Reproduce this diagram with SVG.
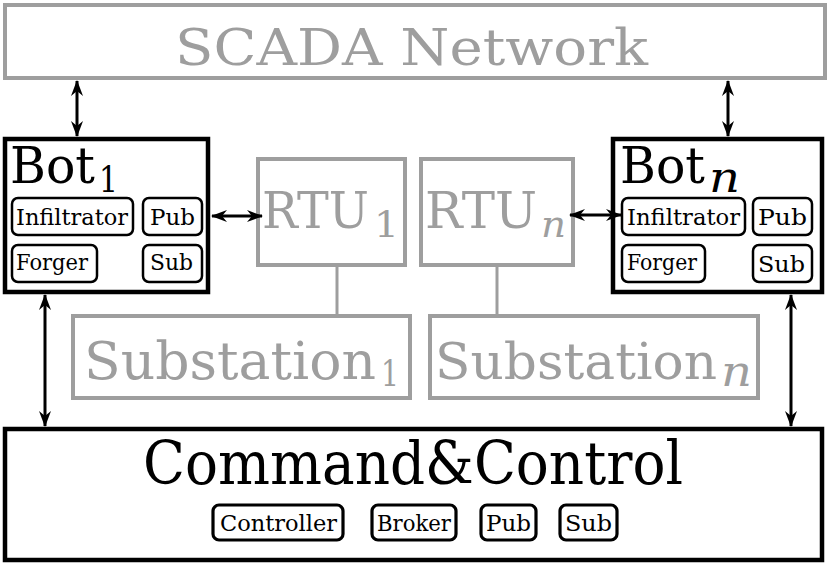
<svg xmlns="http://www.w3.org/2000/svg" width="831" height="566" viewBox="0 0 831 566" font-family="'DejaVu Serif', serif">
<style>
text{font-family:'DejaVu Serif',serif}
.g{fill:#9e9e9e}
.gbox{fill:#fff;stroke:#9e9e9e;stroke-width:4}
.bbox{fill:#fff;stroke:#000;stroke-width:4.5}
.ibox{fill:#fff;stroke:#000;stroke-width:2.5}
.cbox{fill:#fff;stroke:#000;stroke-width:3.2}
.conn{stroke:#000;stroke-width:3;fill:none;marker-start:url(#ah);marker-end:url(#ah)}
.gl{stroke:#9e9e9e;stroke-width:3;fill:none}
.it{font-size:22px}
.ct{font-size:22px}
</style>
<defs>
<marker id="ah" viewBox="0 0 16 12" refX="15" refY="6" markerWidth="16" markerHeight="12" markerUnits="userSpaceOnUse" orient="auto-start-reverse">
<path d="M0,0 L16,6 L0,12 L5,6 z" fill="#000"/>
</marker>
</defs>
<rect width="831" height="566" fill="#fff"/>

<g id="scada">
<rect class="gbox" x="5" y="5" width="820" height="73"/>
<text class="g" x="175" y="65" font-size="50" textLength="473" lengthAdjust="spacingAndGlyphs">SCADA Network</text>
</g>

<g id="bot1">
<rect class="bbox" x="5" y="139" width="203" height="153"/>
<text x="10" y="183" font-size="50" textLength="85" lengthAdjust="spacingAndGlyphs">Bot</text>
<text x="99" y="192" font-size="36" textLength="19" lengthAdjust="spacingAndGlyphs">1</text>
<rect class="ibox" x="12" y="198" width="121" height="37" rx="6"/>
<text class="it" x="16" y="225" textLength="112" lengthAdjust="spacingAndGlyphs">Infiltrator</text>
<rect class="ibox" x="143" y="198" width="59" height="37" rx="6"/>
<text class="it" x="150" y="225" textLength="45" lengthAdjust="spacingAndGlyphs">Pub</text>
<rect class="ibox" x="12" y="245" width="85" height="37" rx="6"/>
<text class="it" x="16" y="270" textLength="72" lengthAdjust="spacingAndGlyphs">Forger</text>
<rect class="ibox" x="143" y="245" width="59" height="37" rx="6"/>
<text class="it" x="150" y="270" textLength="43" lengthAdjust="spacingAndGlyphs">Sub</text>
</g>

<g id="botn">
<rect class="bbox" x="613" y="139" width="209" height="153"/>
<text x="620" y="183" font-size="50" textLength="85" lengthAdjust="spacingAndGlyphs">Bot</text>
<text x="709" y="192" font-size="42" font-style="italic" textLength="31" lengthAdjust="spacingAndGlyphs">n</text>
<rect class="ibox" x="622" y="198" width="123" height="37" rx="6"/>
<text class="it" x="627" y="225" textLength="113" lengthAdjust="spacingAndGlyphs">Infiltrator</text>
<rect class="ibox" x="753" y="198" width="59" height="37" rx="6"/>
<text class="it" x="758" y="225" textLength="49" lengthAdjust="spacingAndGlyphs">Pub</text>
<rect class="ibox" x="622" y="245" width="83" height="37" rx="6"/>
<text class="it" x="627" y="270" textLength="70" lengthAdjust="spacingAndGlyphs">Forger</text>
<rect class="ibox" x="753" y="245" width="59" height="37" rx="6"/>
<text class="it" x="758" y="272" textLength="47" lengthAdjust="spacingAndGlyphs">Sub</text>
</g>

<g id="rtu1">
<rect class="gbox" x="258" y="159" width="147" height="106"/>
<text class="g" x="262" y="228" font-size="50" textLength="107" lengthAdjust="spacingAndGlyphs">RTU</text>
<text class="g" x="374" y="237" font-size="36" textLength="25" lengthAdjust="spacingAndGlyphs">1</text>
</g>

<g id="rtun">
<rect class="gbox" x="421" y="159" width="152" height="106"/>
<text class="g" x="425" y="228" font-size="50" textLength="112" lengthAdjust="spacingAndGlyphs">RTU</text>
<text class="g" x="541" y="237" font-size="38" font-style="italic" textLength="25" lengthAdjust="spacingAndGlyphs">n</text>
</g>

<g id="sub1">
<rect class="gbox" x="73" y="316" width="337" height="82"/>
<text class="g" x="84" y="379" font-size="53" textLength="292" lengthAdjust="spacingAndGlyphs">Substation</text>
<text class="g" x="381" y="386" font-size="36" textLength="18" lengthAdjust="spacingAndGlyphs">1</text>
</g>

<g id="subn">
<rect class="gbox" x="430" y="316" width="328" height="82"/>
<text class="g" x="435" y="379" font-size="51" textLength="282" lengthAdjust="spacingAndGlyphs">Substation</text>
<text class="g" x="721" y="386" font-size="42" font-style="italic" textLength="31" lengthAdjust="spacingAndGlyphs">n</text>
</g>

<g id="cc">
<rect class="bbox" x="5" y="429" width="817" height="131"/>
<text x="143" y="484" font-size="60" textLength="540" lengthAdjust="spacingAndGlyphs">Command&amp;Control</text>
<rect class="cbox" x="213" y="505" width="130" height="35" rx="6"/>
<text class="ct" x="220" y="531" textLength="117" lengthAdjust="spacingAndGlyphs">Controller</text>
<rect class="cbox" x="372" y="505" width="84" height="35" rx="6"/>
<text class="ct" x="377" y="531" textLength="74" lengthAdjust="spacingAndGlyphs">Broker</text>
<rect class="cbox" x="481" y="505" width="55" height="35" rx="6"/>
<text class="ct" x="486" y="531" textLength="45" lengthAdjust="spacingAndGlyphs">Pub</text>
<rect class="cbox" x="560" y="505" width="57" height="35" rx="6"/>
<text class="ct" x="565" y="531" textLength="47" lengthAdjust="spacingAndGlyphs">Sub</text>
</g>

<g id="connectors">
<line class="gl" x1="337" y1="265" x2="337" y2="316"/>
<line class="gl" x1="497" y1="265" x2="497" y2="316"/>
<line class="conn" x1="77" y1="81" x2="77" y2="136"/>
<line class="conn" x1="728" y1="81" x2="728" y2="136"/>
<line class="conn" x1="212" y1="216" x2="262" y2="216"/>
<line class="conn" x1="570" y1="215" x2="621" y2="215"/>
<line class="conn" x1="45" y1="295" x2="45" y2="426"/>
<line class="conn" x1="791" y1="295" x2="791" y2="426"/>
</g>
</svg>
